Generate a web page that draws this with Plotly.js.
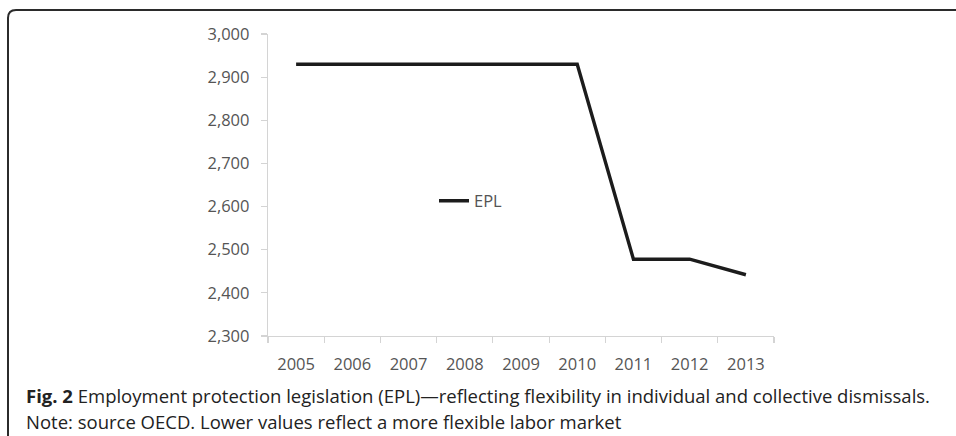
<!DOCTYPE html>
<html>
<head>
<meta charset="utf-8">
<script src="https://cdn.plot.ly/plotly-3.0.1.min.js"></script>
<style>
  html, body { margin: 0; padding: 0; background: #fff; }
  #chart { width: 956px; height: 436px; }
</style>
</head>
<body>
<div id="chart"></div>
<script>
// ---- Data ----
const years = ["2005", "2006", "2007", "2008", "2009", "2010", "2011", "2012", "2013"];
const eplValues = [2930, 2930, 2930, 2930, 2930, 2930, 2478, 2478, 2442];
const seriesName = "EPL";
const yTickValues = [2300, 2400, 2500, 2600, 2700, 2800, 2900, 3000];
const captionLine1 = "<b>Fig. 2</b> Employment protection legislation (EPL)—reflecting flexibility in individual and collective dismissals.";
const captionLine2 = "Note: source OECD. Lower values reflect a more flexible labor market";

// ---- Layout geometry (pixels) ----
const W = 956, H = 436;
const mL = 268, mR = 182, mT = 34, mB = 100;
const pw = W - mL - mR, ph = H - mT - mB;
const px = x => (x - mL) / pw;          // pixel -> paper x
const py = y => (H - mB - y) / ph;      // pixel -> paper y

const axisGrey = "#d4d4d4";
const tickFont = { family: "Open Sans, sans-serif", size: 16.5, color: "#555555" };

const trace = {
  x: years,
  y: eplValues,
  type: "scatter",
  mode: "lines",
  name: seriesName,
  line: { color: "#1c1c1c", width: 3.4 },
  showlegend: true
};

// rounded frame (top-left corner visible)
const fx0 = px(8), fy0 = py(10), rx = 8 / pw, ry = 8 / ph;
const framePath = `M ${px(970)},${fy0} L ${fx0 + rx},${fy0} Q ${fx0},${fy0} ${fx0},${fy0 - ry} L ${fx0},${py(450)}`;

const layout = {
  width: W, height: H,
  margin: { l: mL, r: mR, t: mT, b: mB, pad: 0 },
  paper_bgcolor: "#ffffff",
  plot_bgcolor: "#ffffff",
  showlegend: true,
  legend: {
    x: px(434), y: py(201), xanchor: "left", yanchor: "middle",
    bgcolor: "rgba(0,0,0,0)",
    font: { family: "Open Sans, sans-serif", size: 16.5, color: "#555555" }
  },
  xaxis: {
    type: "category",
    range: [-0.5, 8.5],
    showgrid: false, zeroline: false,
    showline: true, linecolor: axisGrey, linewidth: 1.2,
    ticks: "outside", tickson: "boundaries", ticklen: 6, tickcolor: axisGrey, tickwidth: 1.2,
    tickfont: tickFont,
    ticklabelstandoff: 13,
    fixedrange: true
  },
  yaxis: {
    range: [2300, 3000],
    tickvals: yTickValues,
    tickformat: ",d",
    showgrid: false, zeroline: false,
    showline: true, linecolor: axisGrey, linewidth: 1.2,
    ticks: "outside", ticklen: 6, tickcolor: axisGrey, tickwidth: 1.2,
    tickfont: tickFont,
    ticklabelstandoff: 8,
    fixedrange: true
  },
  shapes: [
    {
      type: "path", xref: "paper", yref: "paper",
      path: framePath,
      line: { color: "#2b2b2b", width: 2 },
      layer: "above"
    }
  ],
  annotations: [
    {
      xref: "paper", yref: "paper",
      x: px(24), y: py(395),
      xanchor: "left", yanchor: "middle",
      text: captionLine1, showarrow: false, align: "left",
      font: { family: "Open Sans, sans-serif", size: 18.5, color: "#222222" }
    },
    {
      xref: "paper", yref: "paper",
      x: px(24), y: py(421),
      xanchor: "left", yanchor: "middle",
      text: captionLine2, showarrow: false, align: "left",
      font: { family: "Open Sans, sans-serif", size: 18.5, color: "#222222" }
    }
  ]
};

Plotly.newPlot("chart", [trace], layout, { displayModeBar: false, staticPlot: true });
</script>
</body>
</html>
